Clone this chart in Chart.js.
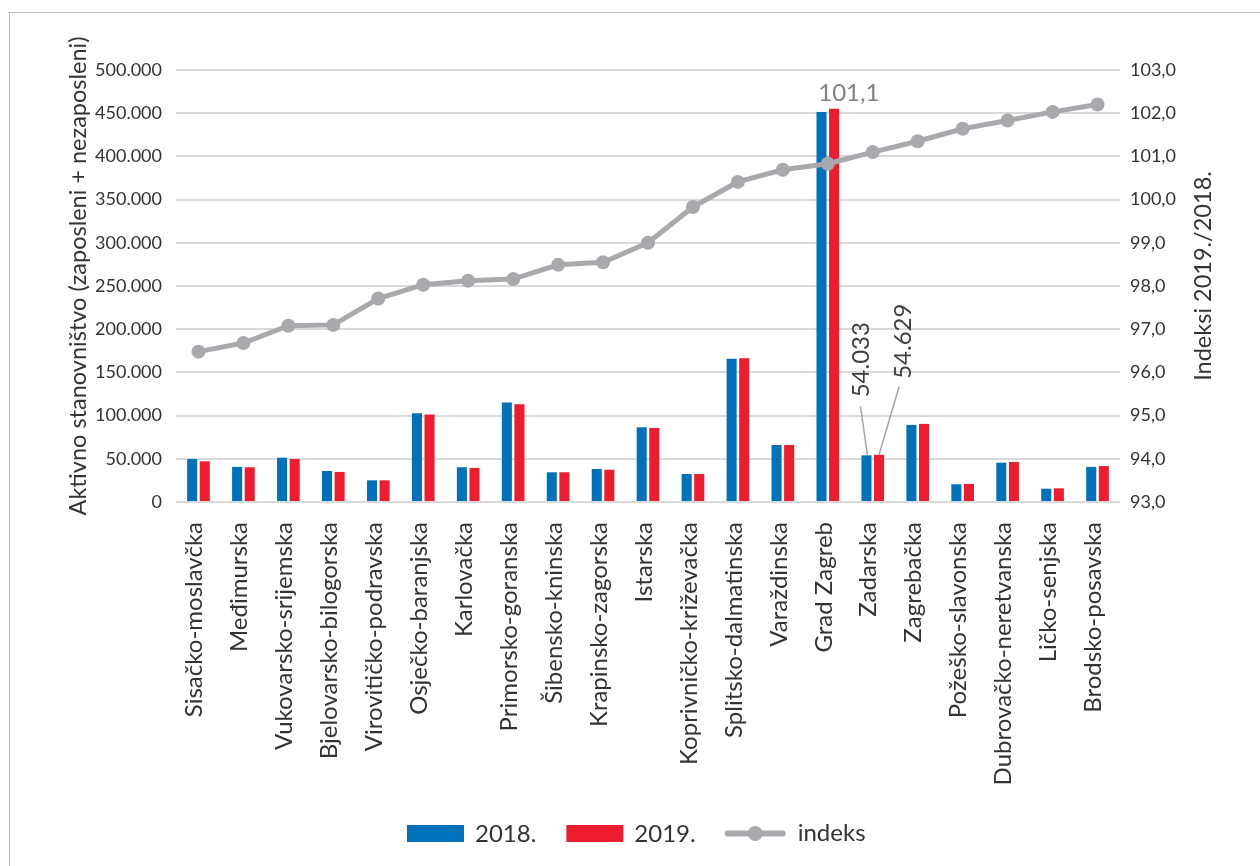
<!DOCTYPE html>
<html>
<head>
<meta charset="utf-8">
<script src="https://cdn.jsdelivr.net/npm/chart.js@4/dist/chart.umd.min.js"></script>
<style>
  html, body { margin: 0; padding: 0; background: #fff; }
  #wrap { position: relative; width: 1260px; height: 866px; overflow: hidden; }
  #frame { position: absolute; left: 9px; top: 12px; width: 1400px; height: 1000px; border: 1.5px solid #BDBDBD; box-sizing: border-box; }
  #box { position: absolute; left: 0; top: 0; width: 1260px; height: 866px; }
</style>
</head>
<body>
<div id="wrap">
  <div id="frame"></div>
  <div id="box"><canvas id="c"></canvas></div>
</div>
<script>
const categories = ["Sisačko-moslavčka", "Međimurska", "Vukovarsko-srijemska", "Bjelovarsko-bilogorska", "Virovitičko-podravska", "Osječko-baranjska", "Karlovačka", "Primorsko-goranska", "Šibensko-kninska", "Krapinsko-zagorska", "Istarska", "Koprivničko-križevačka", "Splitsko-dalmatinska", "Varaždinska", "Grad Zagreb", "Zadarska", "Zagrebačka", "Požeško-slavonska", "Dubrovačko-neretvanska", "Ličko-senjska", "Brodsko-posavska"];
const values2018 = [49800, 40600, 51300, 35900, 25100, 102800, 40200, 115100, 34400, 38200, 86500, 32400, 165700, 66000, 451500, 54033, 89200, 20500, 45500, 15400, 40600];
const values2019 = [47100, 40200, 49800, 34800, 25100, 101200, 39400, 113200, 34400, 37400, 85700, 32400, 166500, 66000, 455100, 54629, 90400, 20900, 46300, 15800, 41600];
const indexValues = [96.48, 96.68, 97.08, 97.10, 97.71, 98.03, 98.12, 98.16, 98.49, 98.55, 99.00, 99.83, 100.41, 100.69, 100.83, 101.10, 101.35, 101.64, 101.83, 102.03, 102.20];
const leftTickLabels = ["0", "50.000", "100.000", "150.000", "200.000", "250.000", "300.000", "350.000", "400.000", "450.000", "500.000"];
const rightTickLabels = ["93,0", "94,0", "95,0", "96,0", "97,0", "98,0", "99,0", "100,0", "101,0", "102,0", "103,0"];
const seriesNames = ["2018.", "2019.", "indeks"];
const leftTitle = "Aktivno stanovništvo (zaposleni + nezaposleni)";
const rightTitle = "Indeksi 2019./2018.";
const highlightIndex = 15;
const highlightIndexLabel = "101,1";
const highlight2018Label = "54.033";
const highlight2019Label = "54.629";

const FONT = "Lato, 'Noto Sans', sans-serif";
const BLUE = "#0072BC";
const RED = "#ED1C2E";
const GRAY = "#A7A9AC";
const TEXT = "#333333";

const extras = {
  id: 'extras',
  afterDatasetsDraw(chart) {
    const ctx = chart.ctx;
    const x = chart.scales.x;
    const y = chart.scales.y;
    const b1 = chart.getDatasetMeta(1).data[highlightIndex];
    const b2 = chart.getDatasetMeta(2).data[highlightIndex];
    ctx.save();
    ctx.strokeStyle = "#A6A6A6";
    ctx.lineWidth = 1.5;
    ctx.beginPath();
    ctx.moveTo(b1.x - 6, b1.y - 49);
    ctx.lineTo(b1.x + 1, b1.y);
    ctx.moveTo(b2.x + 20, b2.y - 68);
    ctx.lineTo(b2.x, b2.y);
    ctx.stroke();
    ctx.fillStyle = "#404040";
    ctx.font = "24px " + FONT;
    ctx.textAlign = "left";
    ctx.textBaseline = "middle";
    ctx.save();
    ctx.translate(b1.x - 5, b1.y - 58);
    ctx.rotate(-Math.PI / 2);
    ctx.fillText(highlight2018Label, 0, 0);
    ctx.restore();
    ctx.save();
    ctx.translate(b2.x + 24, b2.y - 76);
    ctx.rotate(-Math.PI / 2);
    ctx.fillText(highlight2019Label, 0, 0);
    ctx.restore();
    ctx.fillStyle = "#808080";
    ctx.font = "24px " + FONT;
    ctx.textAlign = "center";
    ctx.fillText(highlightIndexLabel, x.getPixelForValue(highlightIndex - 1) + 21, y.getPixelForValue(472700));
    ctx.restore();
  },
  afterDraw(chart) {
    const ctx = chart.ctx;
    const ca = chart.chartArea;
    ctx.save();
    ctx.fillStyle = TEXT;
    ctx.font = "23.5px " + FONT;
    ctx.textAlign = "center";
    ctx.textBaseline = "middle";
    const midY = (ca.top + ca.bottom) / 2 - 10;
    ctx.save();
    ctx.translate(78, midY);
    ctx.rotate(-Math.PI / 2);
    ctx.fillText(leftTitle, 0, 0);
    ctx.restore();
    ctx.save();
    ctx.translate(1203, midY);
    ctx.rotate(-Math.PI / 2);
    ctx.fillText(rightTitle, 0, 0);
    ctx.restore();
    // legend
    const ly = 833.5;
    ctx.font = "24px " + FONT;
    ctx.textAlign = "left";
    let lx = 407;
    ctx.fillStyle = BLUE;
    ctx.fillRect(lx, ly - 8.5, 57, 17);
    lx += 57 + 11;
    ctx.fillStyle = TEXT;
    ctx.fillText(seriesNames[0], lx, ly + 1);
    lx += ctx.measureText(seriesNames[0]).width + 30;
    ctx.fillStyle = RED;
    ctx.fillRect(lx, ly - 8.5, 57, 17);
    lx += 57 + 11;
    ctx.fillStyle = TEXT;
    ctx.fillText(seriesNames[1], lx, ly + 1);
    lx += ctx.measureText(seriesNames[1]).width + 29;
    ctx.strokeStyle = GRAY;
    ctx.lineWidth = 6;
    ctx.lineCap = "round";
    ctx.beginPath();
    ctx.moveTo(lx + 3, ly);
    ctx.lineTo(lx + 58, ly);
    ctx.stroke();
    ctx.fillStyle = GRAY;
    ctx.beginPath();
    ctx.arc(lx + 30.5, ly, 7.5, 0, Math.PI * 2);
    ctx.fill();
    lx += 61 + 12;
    ctx.fillStyle = TEXT;
    ctx.fillText(seriesNames[2], lx, ly);
    ctx.restore();
  }
};

new Chart(document.getElementById('c'), {
  data: {
    labels: categories,
    datasets: [
      {
        type: 'line', label: seriesNames[2], data: indexValues, yAxisID: 'y1', order: 0,
        borderColor: GRAY, backgroundColor: GRAY, borderWidth: 5,
        pointRadius: 7, pointBackgroundColor: GRAY, pointBorderWidth: 0, tension: 0
      },
      {
        type: 'bar', label: seriesNames[0], data: values2018, yAxisID: 'y', order: 1,
        backgroundColor: BLUE, categoryPercentage: 0.56, barPercentage: 0.8
      },
      {
        type: 'bar', label: seriesNames[1], data: values2019, yAxisID: 'y', order: 1,
        backgroundColor: RED, categoryPercentage: 0.56, barPercentage: 0.8
      }
    ]
  },
  options: {
    responsive: true,
    maintainAspectRatio: false,
    animation: false,
    layout: { padding: { top: 70, left: 0, right: 0, bottom: 0 } },
    plugins: { legend: { display: false }, tooltip: { enabled: false } },
    scales: {
      x: {
        grid: { display: false },
        border: { display: false },
        ticks: {
          color: TEXT, font: { family: FONT, size: 24 },
          minRotation: 90, maxRotation: 90, autoSkip: false, padding: 12, labelOffset: -4
        },
        afterFit(s) { s.height = 364; }
      },
      y: {
        position: 'left', min: 0, max: 500000,
        grid: { color: '#D9D9D9', lineWidth: 2, drawTicks: false },
        border: { display: false },
        ticks: {
          stepSize: 50000, color: TEXT, font: { family: FONT, size: 18 }, padding: 14,
          callback: (v, i) => leftTickLabels[i]
        },
        afterFit(s) { s.width = 176; }
      },
      y1: {
        position: 'right', min: 93, max: 103,
        grid: { display: false, drawTicks: false },
        border: { display: false },
        ticks: {
          stepSize: 1, color: TEXT, font: { family: FONT, size: 18 }, padding: 10,
          callback: (v, i) => rightTickLabels[i]
        },
        afterFit(s) { s.width = 140; }
      }
    }
  },
  plugins: [extras]
});
</script>
</body>
</html>
